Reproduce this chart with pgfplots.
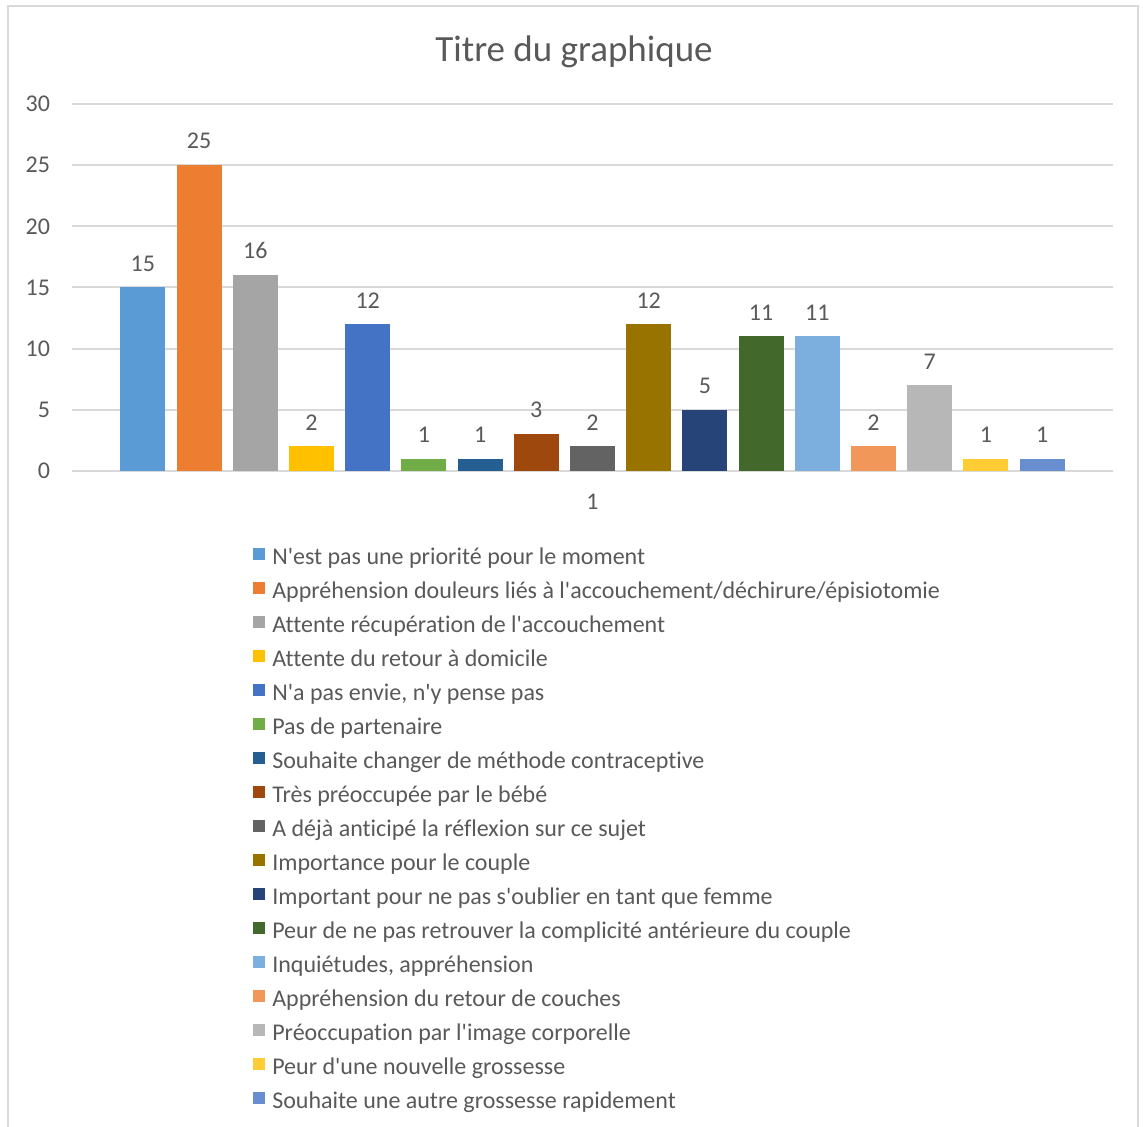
\documentclass[border=0pt]{standalone}
\usepackage{fontspec}
\setmainfont{Carlito}[Ligatures=NoCommon]
\usepackage{pgfplots}
\pgfplotsset{compat=1.18}

\definecolor{txt}{HTML}{595959}
\definecolor{gridc}{HTML}{D9D9D9}
\definecolor{framec}{HTML}{D9D9D9}
\definecolor{c1}{HTML}{5B9BD5}
\definecolor{c2}{HTML}{ED7D31}
\definecolor{c3}{HTML}{A5A5A5}
\definecolor{c4}{HTML}{FFC000}
\definecolor{c5}{HTML}{4472C4}
\definecolor{c6}{HTML}{70AD47}
\definecolor{c7}{HTML}{255E91}
\definecolor{c8}{HTML}{9E480E}
\definecolor{c9}{HTML}{636363}
\definecolor{c10}{HTML}{997300}
\definecolor{c11}{HTML}{264478}
\definecolor{c12}{HTML}{43682B}
\definecolor{c13}{HTML}{7CAFDD}
\definecolor{c14}{HTML}{F1975A}
\definecolor{c15}{HTML}{B7B7B7}
\definecolor{c16}{HTML}{FFCD33}
\definecolor{c17}{HTML}{698ED0}

\newcommand\q{\textquotesingle}
\newcommand\lbl{\fontsize{12}{14}\selectfont}

\begin{document}
\begin{tikzpicture}
% 1 px of the reference = 0.5pt, origin at its top-left corner
\useasboundingbox (0pt,0pt) rectangle (571.5pt,-563pt);
\draw[line width=0.8pt, framec] (4pt,-3pt) rectangle (569pt,-575pt);
\node[font=\fontsize{18.5}{21}\selectfont, text=txt] at (287pt,-26pt) {Titre du graphique};

\begin{axis}[
  at={(36pt,-235.35pt)}, anchor=south west,
  scale only axis,
  width=520.5pt, height=183.3pt,
  xmin=-1, xmax=1,
  ymin=0, ymax=30,
  xtick={0}, xticklabels={1},
  ytick={0,5,...,30},
  ybar=5.6pt, bar width=22.5pt,
  ymajorgrids,
  grid style={line width=1pt, gridc},
  axis line style={draw=none},
  major tick length=0pt,
  clip=false,
  tick label style={font=\lbl, text=txt},
  /pgf/number format/assume math mode=true,
  yticklabel style={xshift=-7.5pt},
  xticklabel style={yshift=-8.3pt},
  nodes near coords,
  every node near coord/.append style={font=\lbl, text=txt, yshift=4.5pt},
  legend style={
    at={(0.168,-0.185)}, anchor=north west,
    draw=none, fill=none,
    font=\lbl, text=txt,
    legend cell align=left,
    row sep=1pt,
    nodes={text height=8.5pt, text depth=2.5pt, inner ysep=2.5pt, inner xsep=3.5pt},
  },
  legend image code/.code={\fill[#1] (0pt,-0.5pt) rectangle (6pt,5.5pt);},
]
\addplot[fill=c1, draw=none] coordinates {(0,15)};
\addlegendentry{N\q{}est pas une priorité pour le moment}
\addplot[fill=c2, draw=none] coordinates {(0,25)};
\addlegendentry{Appréhension douleurs liés à l\q{}accouchement/déchirure/épisiotomie}
\addplot[fill=c3, draw=none] coordinates {(0,16)};
\addlegendentry{Attente récupération de l\q{}accouchement}
\addplot[fill=c4, draw=none] coordinates {(0,2)};
\addlegendentry{Attente du retour à domicile}
\addplot[fill=c5, draw=none] coordinates {(0,12)};
\addlegendentry{N\q{}a pas envie, n\q{}y pense pas}
\addplot[fill=c6, draw=none] coordinates {(0,1)};
\addlegendentry{Pas de partenaire}
\addplot[fill=c7, draw=none] coordinates {(0,1)};
\addlegendentry{Souhaite changer de méthode contraceptive}
\addplot[fill=c8, draw=none] coordinates {(0,3)};
\addlegendentry{Très préoccupée par le bébé}
\addplot[fill=c9, draw=none] coordinates {(0,2)};
\addlegendentry{A déjà anticipé la réflexion sur ce sujet}
\addplot[fill=c10, draw=none] coordinates {(0,12)};
\addlegendentry{Importance pour le couple}
\addplot[fill=c11, draw=none] coordinates {(0,5)};
\addlegendentry{Important pour ne pas s\q{}oublier en tant que femme}
\addplot[fill=c12, draw=none] coordinates {(0,11)};
\addlegendentry{Peur de ne pas retrouver la complicité antérieure du couple}
\addplot[fill=c13, draw=none] coordinates {(0,11)};
\addlegendentry{Inquiétudes, appréhension}
\addplot[fill=c14, draw=none] coordinates {(0,2)};
\addlegendentry{Appréhension du retour de couches}
\addplot[fill=c15, draw=none] coordinates {(0,7)};
\addlegendentry{Préoccupation par l\q{}image corporelle}
\addplot[fill=c16, draw=none] coordinates {(0,1)};
\addlegendentry{Peur d\q{}une nouvelle grossesse}
\addplot[fill=c17, draw=none] coordinates {(0,1)};
\addlegendentry{Souhaite une autre grossesse rapidement}
\end{axis}
\end{tikzpicture}
\end{document}
